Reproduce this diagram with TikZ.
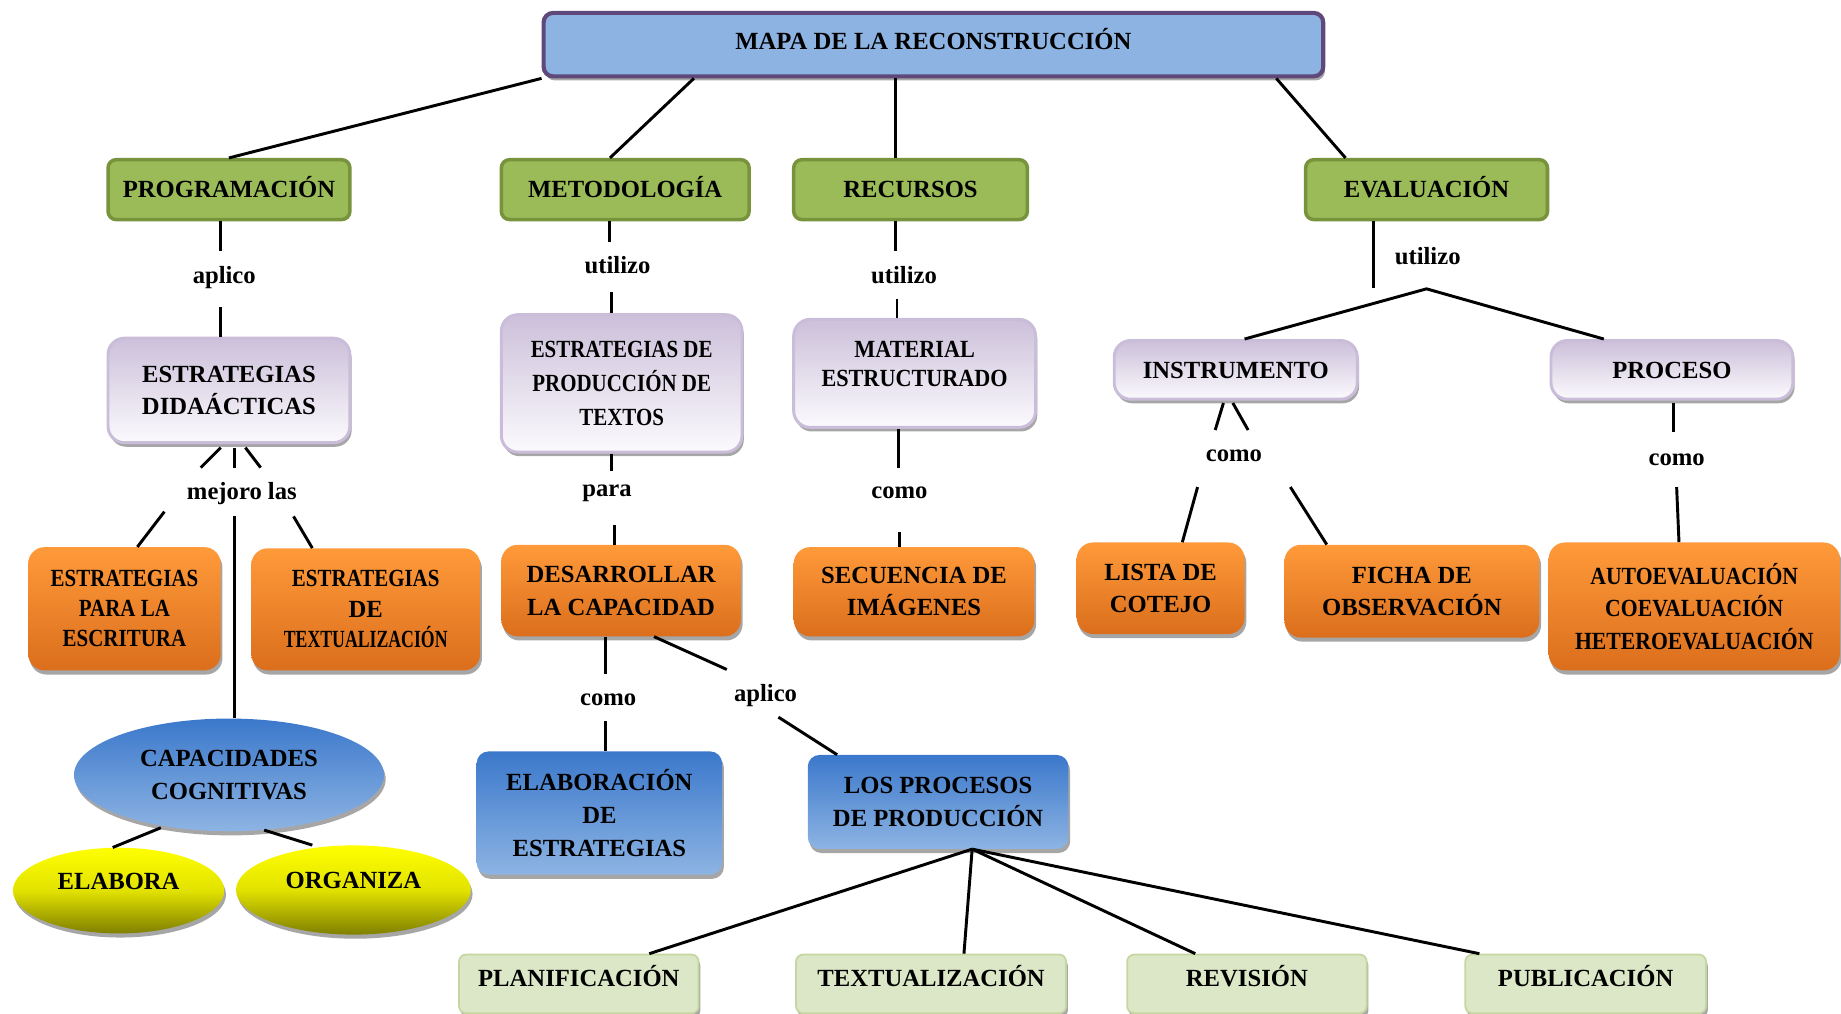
\documentclass[tikz,border=0pt]{standalone}
\usepackage{fontspec}
\setmainfont{Liberation Serif}
\newfontfamily\cfA{Liberation Serif}[FakeStretch=0.85]
\newfontfamily\cfB{Liberation Serif}[FakeStretch=0.72]
\newfontfamily\cfC{Liberation Serif}[FakeStretch=0.88]
\newfontfamily\cfD{Liberation Serif}[FakeStretch=0.9]
\usetikzlibrary{shapes.geometric,shadows}
\definecolor{titlefill}{HTML}{8DB3E2}
\definecolor{titledraw}{HTML}{5F497A}
\definecolor{gfill}{HTML}{9BBB59}
\definecolor{gdraw}{HTML}{77933C}
\definecolor{ptop}{HTML}{CCC0DA}
\definecolor{pbot}{HTML}{FBFAFD}
\definecolor{pdraw}{HTML}{C9BDD9}
\definecolor{otop}{HTML}{FF9A3A}
\definecolor{obot}{HTML}{DB6E1C}
\definecolor{btop}{HTML}{3B78CB}
\definecolor{bbot}{HTML}{8DB4E3}
\definecolor{ytop}{HTML}{FFFF00}
\definecolor{ymid}{HTML}{E2E200}
\definecolor{ybot}{HTML}{7F7F00}
\definecolor{lgfill}{HTML}{DCE7C7}
\definecolor{lgdraw}{HTML}{C5D6A0}
\newcommand\fsz{\fontsize{21}{27}\selectfont\bfseries}
\begin{document}
\begin{tikzpicture}[x=1pt,y=-1pt,
  base/.style={font=\fsz, align=center, inner sep=0pt},
  sh/.style={drop shadow={shadow xshift=1.5pt, shadow yshift=-3.5pt, opacity=0.35, fill=black}},
  one/.style={text height=14pt, text depth=0pt},
  titlebox/.style={base, one, rectangle, rounded corners=8pt, fill=titlefill, draw=titledraw, line width=3.5pt, sh},
  gbox/.style={base, one, rectangle, rounded corners=7pt, fill=gfill, draw=gdraw, line width=3pt, minimum height=51pt},
  pbox/.style={base, rectangle, rounded corners=14pt, top color=ptop, bottom color=pbot, draw=pdraw, line width=2.5pt, sh},
  obox/.style={base, rectangle, rounded corners=14pt, top color=otop, bottom color=obot, draw=none, sh},
  bbox/.style={base, rectangle, rounded corners=10pt, top color=btop, bottom color=bbot, draw=none, sh},
  bell/.style={base, ellipse, top color=btop, bottom color=bbot, draw=none, sh},
  yell/.style={base, one, ellipse, top color=ytop, bottom color=ybot, middle color=ymid, draw=none, sh, text depth=16pt},
  lbox/.style={base, rectangle, rounded corners=6pt, fill=lgfill, draw=lgdraw, line width=1.5pt, sh, minimum height=50pt, text height=14pt, text depth=10pt},
  lbl/.style={font=\fsz, inner sep=1pt},
  conn/.style={line width=2.5pt, black}
]
\useasboundingbox (0,0) rectangle (1568,863);

% title
\node[titlebox, minimum width=664pt, minimum height=54pt, text depth=6pt] (title) at (795,38) {MAPA DE LA RECONSTRUCCIÓN};

% green row
\node[gbox, minimum width=206pt] (prog) at (195,161.5) {PROGRAMACIÓN};
\node[gbox, minimum width=211pt] (met) at (532.5,161.5) {METODOLOGÍA};
\node[gbox, minimum width=199pt] (rec) at (775.5,161.5) {RECURSOS};
\node[gbox, minimum width=206pt] (eval) at (1215,161.5) {EVALUACIÓN};

% purple row
\node[pbox, minimum width=206pt, minimum height=89pt, font=\fontsize{21}{28}\selectfont\bfseries] (ed) at (195,332.5) {ESTRATEGIAS\\DIDAÁCTICAS};
\node[pbox, minimum width=205pt, minimum height=117pt, font=\cfA\fontsize{21}{29}\selectfont\bfseries] (ept) at (529.5,326.5) {ESTRATEGIAS DE\\PRODUCCIÓN DE\\TEXTOS};
\node[pbox, minimum width=206pt, minimum height=92pt] (mat) at (779,318) {};
\node[base, font=\cfD\fontsize{21}{25}\selectfont\bfseries] (matt) at (779,310) {MATERIAL\\ESTRUCTURADO};
\node[pbox, one, minimum width=207pt, minimum height=50pt] (instr) at (1052.5,315) {INSTRUMENTO};
\node[pbox, one, minimum width=206pt, minimum height=50pt] (proc) at (1424,315) {PROCESO};

% orange row
\node[obox, minimum width=164pt, minimum height=105pt, font=\cfA\fontsize{21}{25.5}\selectfont\bfseries] (epe) at (106,518.5) {ESTRATEGIAS\\PARA LA\\ESCRITURA};
\node[obox, minimum width=195pt, minimum height=104pt, font=\fontsize{21}{26}\selectfont\bfseries] (etx) at (311.5,519) {{\cfA ESTRATEGIAS}\\DE\\{\cfB TEXTUALIZACIÓN}};
\node[obox, minimum width=204pt, minimum height=78pt, font=\fontsize{21}{28}\selectfont\bfseries] (des) at (529,503) {DESARROLLAR\\LA CAPACIDAD};
\node[obox, minimum width=205pt, minimum height=76pt] (sec) at (778.5,504) {SECUENCIA DE\\IMÁGENES};
\node[obox, minimum width=143pt, minimum height=78pt] (lis) at (988.5,501) {LISTA DE\\COTEJO};
\node[obox, minimum width=217pt, minimum height=79pt] (fic) at (1202.5,503.5) {FICHA DE\\OBSERVACIÓN};
\node[obox, minimum width=248pt, minimum height=109pt, font=\cfC\fontsize{21}{27.5}\selectfont\bfseries] (aut) at (1443,516.5) {AUTOEVALUACIÓN\\COEVALUACIÓN\\HETEROEVALUACIÓN};

% blue
\node[bbox, minimum width=209pt, minimum height=105pt, font=\fontsize{21}{28}\selectfont\bfseries] (elab) at (510.5,692.5) {ELABORACIÓN\\DE\\ESTRATEGIAS};
\node[bbox, minimum width=222pt, minimum height=80pt, font=\fontsize{21}{28}\selectfont\bfseries] (lpp) at (799,683) {LOS PROCESOS\\DE PRODUCCIÓN};
\node[bell, minimum width=264pt, minimum height=96pt, font=\fontsize{21}{28}\selectfont\bfseries] (cap) at (195,660) {CAPACIDADES\\COGNITIVAS};
\node[yell, minimum width=180pt, minimum height=73pt] (ela) at (101,758.5) {ELABORA};
\node[yell, minimum width=200pt, minimum height=76pt] (org) at (301,758) {ORGANIZA};

% bottom
\node[lbox, minimum width=204pt] (plan) at (493,838) {PLANIFICACIÓN};
\node[lbox, minimum width=230pt] (textu) at (793,838) {TEXTUALIZACIÓN};
\node[lbox, minimum width=204pt] (rev) at (1062,838) {REVISIÓN};
\node[lbox, minimum width=205pt] (pub) at (1350.5,838) {PUBLICACIÓN};

% labels
\node[lbl] (l1) at (191,236) {aplico};
\node[lbl] (l2) at (526,226) {utilizo};
\node[lbl] (l3) at (770,234) {utilizo};
\node[lbl] (l4) at (1216,218) {utilizo};
\node[lbl] (l5) at (206,420) {mejoro las};
\node[lbl] (l6) at (517,420) {para};
\node[lbl] (l7) at (766,420) {como};
\node[lbl] (l8) at (1051,388) {como};
\node[lbl] (l9) at (1428,392) {como};
\node[lbl] (l10) at (518,596) {como};
\node[lbl] (l11) at (652,592) {aplico};

% connectors from title
\draw[conn] (title.south west) -- (prog.north);
\draw[conn] ([xshift=-204pt]title.south) -- ([xshift=-13pt]met.north);
\draw[conn] ([xshift=-32pt]title.south) -- ([xshift=-12.5pt]rec.north);
\draw[conn] ([xshift=292pt]title.south) -- ([xshift=-69pt]eval.north);

% programacion
\draw[conn] ([xshift=-7pt]prog.south) -- ++(0,25);
\draw[conn] ([xshift=-7pt]ed.north) -- ++(0,-25);
% metodologia
\draw[conn] ([xshift=-13.5pt]met.south) -- ++(0,18);
\draw[conn] ([xshift=-8.5pt]ept.north) -- ++(0,-18);
% recursos
\draw[conn] ([xshift=-12.5pt]rec.south) -- ++(0,25);
\draw[conn] ([xshift=-15pt]mat.north) -- ++(0,-16);
% evaluacion
\coordinate (evapex) at (1215,246);
\draw[conn] ([xshift=-45pt]eval.south) -- ++(0,57);
\draw[conn] ([xshift=7.5pt]instr.north) -- (evapex) -- ([xshift=-58pt]proc.north);

% estrategias didacticas
\draw[conn] ([xshift=-7pt,yshift=-3pt]ed.south) -- ++(-17,17);
\draw[conn] ([xshift=5pt,yshift=-3pt]ed.south) -- ++(0,17);
\draw[conn] ([xshift=14pt,yshift=-3pt]ed.south) -- ++(13,17);
\draw[conn] ([xshift=11pt]epe.north) -- ++(23,-30);
\draw[conn] ([xshift=5pt]cap.north) -- ++(0,-172);
\draw[conn] ([xshift=-45.5pt]etx.north) -- ++(-16,-27);

% estrategias de produccion
\draw[conn] ([xshift=-8.5pt]ept.south) -- ++(0,15);
\draw[conn] ([xshift=-6pt]des.north) -- ++(0,-17);
% material
\draw[conn] ([xshift=-14pt]mat.south) -- ++(0,33);
\draw[conn] ([xshift=-12.5pt]sec.north) -- ++(0,-13);
% instrumento
\draw[conn] ([xshift=-10.5pt,yshift=-2pt]instr.south) -- ++(-7,23);
\draw[conn] ([xshift=-2.5pt,yshift=-2pt]instr.south) -- ++(13,23);
\draw[conn] ([xshift=18.5pt]lis.north) -- ++(13,-47);
\draw[conn] ([xshift=-72.5pt]fic.north) -- ++(-31,-49);
% proceso
\draw[conn] ([xshift=1pt,yshift=-2pt]proc.south) -- ++(0,25);
\draw[conn] ([xshift=-13pt]aut.north) -- ++(-2,-47);
% desarrollar
\draw[conn] ([xshift=-13pt]des.south) -- ++(0,32);
\draw[conn] ([xshift=5.5pt]elab.north) -- ++(0,-26);
\draw[conn] ([xshift=28pt]des.south) -- ++(62,28);
\draw[conn] ([xshift=-86pt]lpp.north) -- ++(-50,-32);
% capacidades
\draw[conn] ([xshift=-5pt]ela.north) -- (137,705);
\draw[conn] ([xshift=-35pt]org.north) -- (225,707);
% procesos de produccion
\draw[conn] ([xshift=29pt]lpp.south) -- ([xshift=60pt]plan.north);
\draw[conn] ([xshift=29pt]lpp.south) -- ([xshift=28pt]textu.north);
\draw[conn] ([xshift=29pt]lpp.south) -- ([xshift=-44pt]rev.north);
\draw[conn] ([xshift=29pt]lpp.south) -- ([xshift=-90.5pt]pub.north);
\end{tikzpicture}
\end{document}
